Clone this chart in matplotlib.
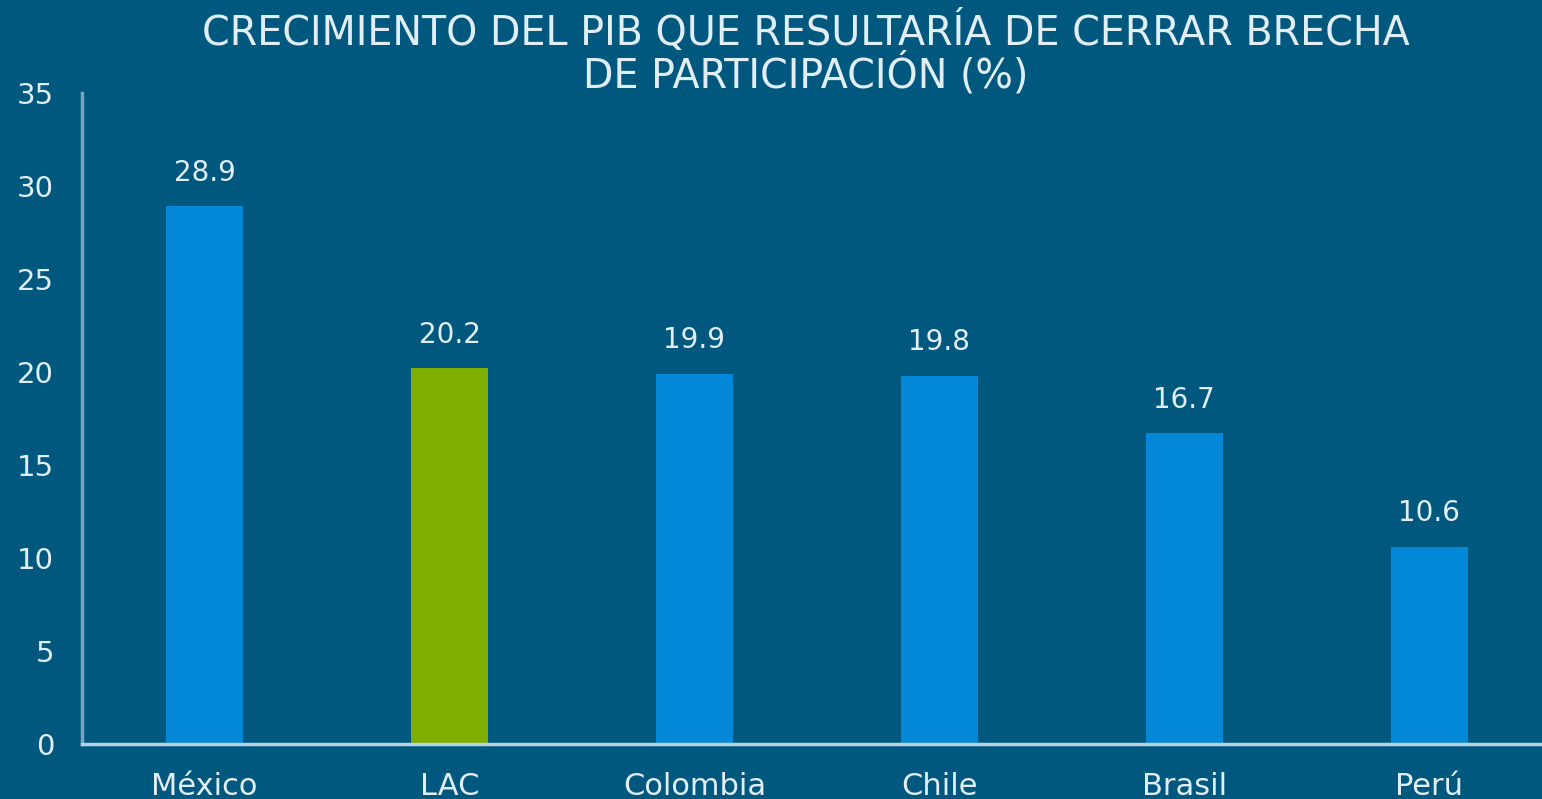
import matplotlib
matplotlib.use("Agg")
import matplotlib.pyplot as plt

categories = ["México", "LAC", "Colombia", "Chile", "Brasil", "Perú"]
values = [28.9, 20.2, 19.9, 19.8, 16.7, 10.6]
value_labels = ["28.9", "20.2", "19.9", "19.8", "16.7", "10.6"]
yticks = [0, 5, 10, 15, 20, 25, 30, 35]
title = "CRECIMIENTO DEL PIB QUE RESULTARÍA DE CERRAR BRECHA\nDE PARTICIPACIÓN (%)"

BG = "#01587F"
BLUE = "#0288D6"
GREEN = "#80AE00"
TXT = "#E2EEF5"

plt.rcParams["font.family"] = ["DejaVu Sans"]

fig = plt.figure(figsize=(15.42, 7.99), dpi=100, facecolor=BG)
ax = fig.add_axes([82/1542, 1-744/799, 1-82/1542, (744-93)/799])
ax.set_facecolor(BG)

colors = [GREEN if c == "LAC" else BLUE for c in categories]
x = list(range(len(categories)))
ax.bar(x, values, width=0.314, color=colors, zorder=2)

for xi, v, lab in zip(x, values, value_labels):
    ax.annotate(lab, (xi, v), xytext=(0, 14), textcoords="offset points",
                ha="center", va="bottom", color=TXT, fontsize=20)

ax.set_xlim(-0.5, 5.46)
ax.set_ylim(0, 35)
ax.set_yticks(yticks)
ax.set_yticklabels([str(t) for t in yticks])
ax.set_xticks(x)
ax.set_xticklabels(categories)
ax.tick_params(axis="y", length=0, pad=20, labelsize=21, labelcolor=TXT)
ax.tick_params(axis="x", length=0, pad=20, labelsize=22, labelcolor=TXT)

for s in ["top", "right"]:
    ax.spines[s].set_visible(False)
ax.spines["left"].set_color("#7AA3BF")
ax.spines["left"].set_linewidth(2.5)
ax.spines["bottom"].set_color("#B5D0E1")
ax.spines["bottom"].set_linewidth(2.5)
ax.spines["bottom"].set_zorder(3)

fig.text(806/1542, 1-54/799, title, ha="center", va="center", color=TXT,
         fontsize=28.5, linespacing=0.98)

fig.savefig("out.png", dpi=100, facecolor=BG)
